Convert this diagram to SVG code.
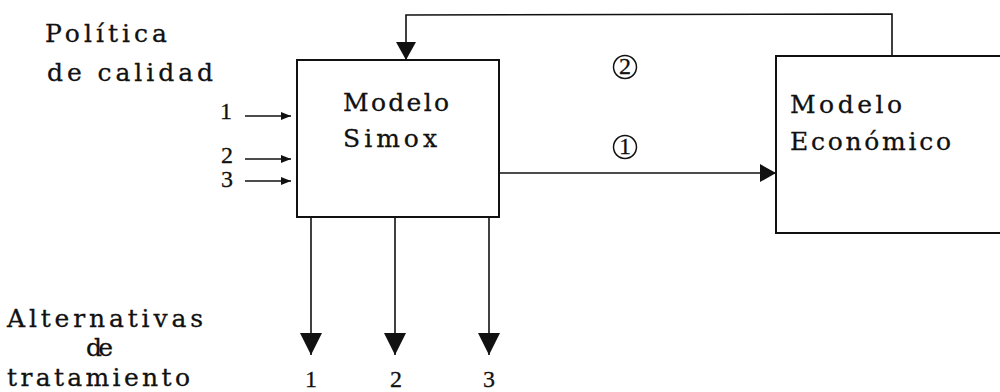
<svg xmlns="http://www.w3.org/2000/svg" width="1000" height="392" viewBox="0 0 1000 392">
<style>
.t{font-family:"DejaVu Serif","Liberation Serif",serif;font-size:25px;fill:#111;stroke:#111;stroke-width:0.3}
.n{font-family:"Liberation Serif","DejaVu Serif",serif;font-size:24px;fill:#111;stroke:#111;stroke-width:0.3}
.box{fill:#fff;stroke:#111;stroke-width:2}
.ln{fill:none;stroke:#111;stroke-width:1.6}
</style>
<defs>
<marker id="sm" markerWidth="10" markerHeight="8" refX="10" refY="4" orient="auto" markerUnits="userSpaceOnUse" viewBox="0 0 10 8">
<path d="M0,0 L10,4 L0,8 Z" fill="#111"/>
</marker>
<marker id="dn" markerWidth="22" markerHeight="22" refX="22" refY="11" orient="auto" markerUnits="userSpaceOnUse" viewBox="0 0 22 22">
<path d="M0,0 L22,11 L0,22 Z" fill="#111"/>
</marker>
<marker id="fb" markerWidth="18" markerHeight="20" refX="18" refY="10" orient="auto" markerUnits="userSpaceOnUse" viewBox="0 0 18 20">
<path d="M0,0 L18,10 L0,20 Z" fill="#111"/>
</marker>
<marker id="r1" markerWidth="16" markerHeight="18" refX="16" refY="9" orient="auto" markerUnits="userSpaceOnUse" viewBox="0 0 16 18">
<path d="M0,0 L16,9 L0,18 Z" fill="#111"/>
</marker>
</defs>

<g id="connectors">
<path class="ln" d="M892,57 L892,14 L406,15 L406,60" marker-end="url(#fb)"/>
<path class="ln" d="M499,173 L776,173" marker-end="url(#r1)"/>
<path class="ln" d="M245,116 L291,116" marker-end="url(#sm)"/>
<path class="ln" d="M245,159 L291,159" marker-end="url(#sm)"/>
<path class="ln" d="M245,181 L291,181" marker-end="url(#sm)"/>
<path class="ln" d="M311,217 L311,355" marker-end="url(#dn)"/>
<path class="ln" d="M395,217 L395,355" marker-end="url(#dn)"/>
<path class="ln" d="M489,217 L489,355" marker-end="url(#dn)"/>
</g>

<g id="simox">
<rect class="box" x="297" y="60" width="202" height="157"/>
<text class="t" x="343" y="111" textLength="106" lengthAdjust="spacing">Modelo</text>
<text class="t" x="343" y="147" textLength="94" lengthAdjust="spacing">Simox</text>
</g>

<g id="economico">
<rect class="box" x="776" y="56" width="240" height="177"/>
<text class="t" x="790" y="113" textLength="112" lengthAdjust="spacing">Modelo</text>
<text class="t" x="790" y="150" textLength="161" lengthAdjust="spacing">Económico</text>
</g>

<g id="label-politica">
<text class="t" x="45" y="42" textLength="122" lengthAdjust="spacing">Política</text>
<text class="t" x="47" y="81" textLength="166" lengthAdjust="spacing">de calidad</text>
</g>

<g id="inputs">
<text class="n" x="220" y="119" font-size="25">1</text>
<text class="n" x="221" y="163">2</text>
<text class="n" x="221" y="187">3</text>
</g>

<g id="circled">
<circle cx="625" cy="67" r="11.5" fill="none" stroke="#111" stroke-width="1.5"/>
<text class="n" x="625" y="74" text-anchor="middle" font-size="20">2</text>
<circle cx="625" cy="147" r="11.5" fill="none" stroke="#111" stroke-width="1.5"/>
<text class="n" x="625" y="154" text-anchor="middle" font-size="20">1</text>
</g>

<g id="label-alternativas">
<text class="t" x="7" y="327" textLength="196" lengthAdjust="spacing">Alternativas</text>
<text class="t" x="86" y="356" textLength="27" lengthAdjust="spacing">de</text>
<text class="t" x="7" y="386" textLength="183" lengthAdjust="spacing">tratamiento</text>
</g>

<g id="outputs">
<text class="n" x="311" y="387" text-anchor="middle">1</text>
<text class="n" x="396" y="387" text-anchor="middle">2</text>
<text class="n" x="489" y="387" text-anchor="middle">3</text>
</g>
</svg>
